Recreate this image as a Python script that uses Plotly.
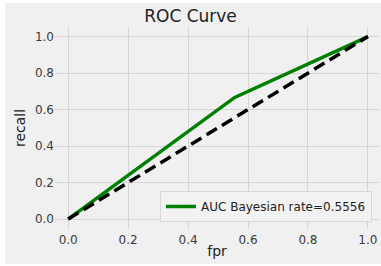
import plotly.graph_objects as go

fpr = [0.0, 0.5556, 1.0]
recall = [0.0, 0.6667, 1.0]
diag_x = [0.0, 1.0]
diag_y = [0.0, 1.0]
ticks = [0.0, 0.2, 0.4, 0.6, 0.8, 1.0]
tick_text = ["0.0", "0.2", "0.4", "0.6", "0.8", "1.0"]
legend_label = "AUC Bayesian rate=0.5556"

W, H = 381, 266
L, R, T, B = 55, 2, 28, 38
pw, ph = W - L - R, H - T - B

def px_x(p):
    return (p - L) / pw

def px_y(p):
    return (H - B - p) / ph

fig = go.Figure()
fig.add_trace(go.Scatter(x=fpr, y=recall, mode="lines", name=legend_label,
                         line=dict(color="#008000", width=3.5)))
fig.add_trace(go.Scatter(x=diag_x, y=diag_y, mode="lines", showlegend=False,
                         line=dict(color="black", width=3.5, dash="12px,6px")))

fig.add_shape(type="rect", xref="paper", yref="paper",
              x0=px_x(5), x1=px_x(W + 5), y0=px_y(264), y1=px_y(3),
              fillcolor="#f0f0f0", line=dict(width=0), layer="below")

axis_common = dict(showgrid=True, gridcolor="#d4d4d4", gridwidth=1, zeroline=False,
                   showline=False, tickmode="array", tickvals=ticks, ticktext=tick_text,
                   tickfont=dict(family="DejaVu Sans", size=12, color="#3a3a3a"),
                   ticks="", automargin=False)

fig.update_layout(
    width=W, height=H,
    margin=dict(l=L, r=R, t=T, b=B),
    paper_bgcolor="white",
    plot_bgcolor="#f0f0f0",
    font=dict(family="DejaVu Sans", color="#222"),
    title=dict(text="ROC Curve", x=px_x(217), xanchor="center", y=1 - 16 / H, yanchor="middle",
               font=dict(size=17, color="#222"), automargin=False),
    xaxis=dict(range=[-0.044, 1.037], ticklabelstandoff=3,
               title=dict(text="fpr", font=dict(size=14, color="#222"), standoff=0),
               **axis_common),
    yaxis=dict(range=[-0.049, 1.047],
               title=dict(text="recall", font=dict(size=14, color="#222"), standoff=6),
               **axis_common),
    legend=dict(x=px_x(372), xanchor="right", y=px_y(222), yanchor="bottom",
                bgcolor="rgba(242,242,242,0.9)", bordercolor="#d8d8d8", borderwidth=1,
                font=dict(family="DejaVu Sans", size=12, color="#222")),
    showlegend=True,
)

fig.write_html("out.html", config={"displayModeBar": False},
               post_script="document.body.style.margin='0px';")
